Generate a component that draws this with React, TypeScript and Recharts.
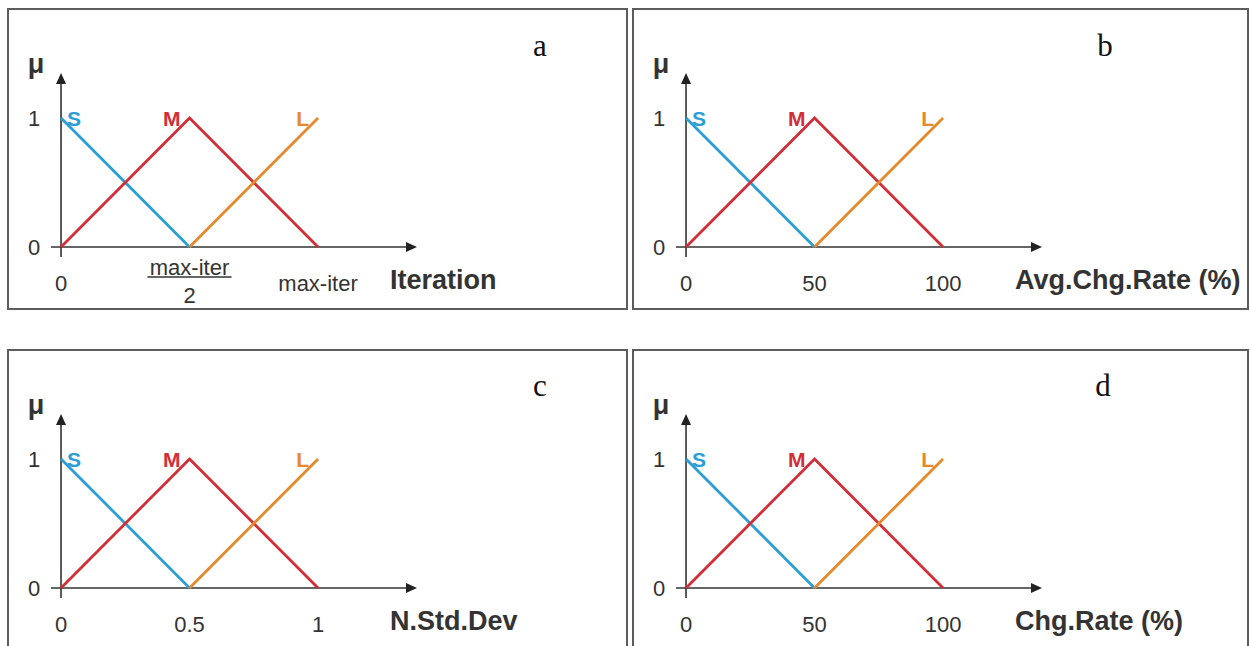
import React from "react";
import { LineChart, Line, XAxis, YAxis, ReferenceLine } from "recharts";

// panel captions and axis titles
const panelLetters = ["a", "b", "c", "d"];
const axisTitles = ["Iteration", "Avg.Chg.Rate (%)", "N.Std.Dev", "Chg.Rate (%)"];

// breakpoints of the membership functions on each x axis
const iterX = [0, 0.5, 1]; // in units of max-iter
const avgChgX = [0, 50, 100];
const stdDevX = [0, 0.5, 1];
const chgX = [0, 50, 100];
const breakpoints = [iterX, avgChgX, stdDevX, chgX];

const xTickLabels = [
  ["0", "max-iter/2", "max-iter"],
  ["0", "50", "100"],
  ["0", "0.5", "1"],
  ["0", "50", "100"],
];
const yTicks = [0, 1];

// membership degrees at the breakpoints
const muS = [1, 0]; // on breakpoints 0..1
const muM = [0, 1, 0]; // on breakpoints 0..2
const muL = [0, 1]; // on breakpoints 1..2

const setNames = ["S", "M", "L"];
const setColors = ["#2b9fd5", "#d22e38", "#e5892d"];

const FONT = "'Liberation Sans', Arial, Helvetica, sans-serif";
const AXIS = "#333";

const PANEL_H = 302;
const layout = [
  { left: 7, top: 8, width: 621, letterX: 533, letterY: 48 },
  { left: 632, top: 8, width: 617, letterX: 473, letterY: 48 },
  { left: 7, top: 349, width: 621, letterX: 533, letterY: 47 },
  { left: 632, top: 349, width: 617, letterX: 471, letterY: 47 },
];

function ArrowAxis(p: any) {
  const { x1, y1, x2, y2 } = p;
  const dx = x2 - x1;
  const dy = y2 - y1;
  const len = Math.hypot(dx, dy) || 1;
  const ux = dx / len;
  const uy = dy / len;
  const L = 11;
  const W = 5;
  const bx = x2 - ux * L;
  const by = y2 - uy * L;
  const pts = `${x2},${y2} ${bx - uy * W},${by + ux * W} ${bx + uy * W},${by - ux * W}`;
  return (
    <g>
      <line x1={x1} y1={y1} x2={bx + ux * 2} y2={by + uy * 2} stroke={AXIS} strokeWidth={1.6} />
      <polygon points={pts} fill="#222" />
    </g>
  );
}

// plot-area edges, relative to each panel
const PLOT_TOP = 65;
const PLOT_LEFT = 44;
const PLOT_BOTTOM = PANEL_H - 53;

function makeXTick(labels: string[], xs: number[]) {
  return function XTick(p: any) {
    const { x, payload } = p;
    const y = PLOT_BOTTOM;
    const label = labels[xs.indexOf(payload.value)] ?? String(payload.value);
    if (label.includes("/")) {
      const [num, den] = label.split("/");
      return (
        <g>
          <text x={x} y={y + 18} textAnchor="middle" fontFamily={FONT} fontSize={22} fill={AXIS}>
            {num}
          </text>
          <line x1={x - 42} x2={x + 42} y1={y + 20} y2={y + 20} stroke={AXIS} strokeWidth={1.4} />
          <text x={x} y={y + 46} textAnchor="middle" fontFamily={FONT} fontSize={22} fill={AXIS}>
            {den}
          </text>
        </g>
      );
    }
    return (
      <text x={x} y={y + 34} textAnchor="middle" fontFamily={FONT} fontSize={22} fill={AXIS}>
        {label}
      </text>
    );
  };
}

function YTick(p: any) {
  const { y, payload } = p;
  return (
    <text x={PLOT_LEFT - 17} y={y + 8} textAnchor="middle" fontFamily={FONT} fontSize={22} fill={AXIS}>
      {payload.value}
    </text>
  );
}

function makeSetLabel(name: string, color: string, side: "right" | "left") {
  return function SetLabel(p: any) {
    const { cx, cy, payload, index } = p;
    if (!payload || payload.mu !== 1) return <g key={`d${index}`} />;
    return (
      <text
        key={`d${index}`}
        x={side === "right" ? cx + 6 : cx - 9}
        y={cy + 8}
        textAnchor={side === "right" ? "start" : "end"}
        fontFamily={FONT}
        fontWeight="bold"
        fontSize={21}
        fill={color}
      >
        {name}
      </text>
    );
  };
}

function Panel({ idx }: { idx: number }) {
  const xs = breakpoints[idx];
  const xMax = xs[2];
  const box = layout[idx];
  const plotRight = 410;
  const xDomain = [-0.039 * xMax, 1.385 * xMax];
  const yDomain = [-0.078, 1.349];
  const sData = [
    { x: xs[0], mu: muS[0] },
    { x: xs[1], mu: muS[1] },
  ];
  const mData = xs.map((x, k) => ({ x, mu: muM[k] }));
  const lData = [
    { x: xs[1], mu: muL[0] },
    { x: xs[2], mu: muL[1] },
  ];
  const series = [sData, mData, lData];
  const sides: ("right" | "left")[] = ["right", "left", "left"];

  return (
    <div style={{ position: "absolute", left: box.left, top: box.top, width: box.width, height: PANEL_H }}>
      <LineChart
        width={box.width}
        height={PANEL_H}
        margin={{ top: PLOT_TOP, left: PLOT_LEFT - 1, right: box.width - plotRight, bottom: 52 }}
      >
        <XAxis
          type="number"
          dataKey="x"
          domain={xDomain}
          allowDataOverflow
          ticks={xs}
          interval={0}
          height={1}
          axisLine={false}
          tickLine={false}
          tickSize={0}
          tickMargin={0}
          tick={makeXTick(xTickLabels[idx], xs)}
        />
        <YAxis
          type="number"
          dataKey="mu"
          domain={yDomain}
          allowDataOverflow
          ticks={yTicks}
          interval={0}
          width={1}
          axisLine={false}
          tickLine={false}
          tickSize={0}
          tickMargin={0}
          tick={YTick}
        />
        <ReferenceLine
          segment={[
            { x: xDomain[0], y: 0 },
            { x: xDomain[1], y: 0 },
          ]}
          ifOverflow="visible"
          shape={ArrowAxis}
        />
        <ReferenceLine
          segment={[
            { x: 0, y: yDomain[0] },
            { x: 0, y: yDomain[1] },
          ]}
          ifOverflow="visible"
          shape={ArrowAxis}
          label={{
            content: () => (
              <g>
                <text
                  x={PLOT_LEFT - 15}
                  y={PLOT_TOP}
                  textAnchor="middle"
                  fontFamily={FONT}
                  fontWeight="bold"
                  fontSize={27}
                  fill={AXIS}
                >
                  μ
                </text>
                <text
                  x={plotRight - 27}
                  y={PLOT_BOTTOM + 32}
                  fontFamily={FONT}
                  fontWeight="bold"
                  fontSize={27}
                  fill={AXIS}
                >
                  {axisTitles[idx]}
                </text>
              </g>
            ),
          }}
        />
        {series.map((d, k) => (
          <Line
            key={setNames[k]}
            data={d}
            dataKey="mu"
            type="linear"
            stroke={setColors[k]}
            strokeWidth={2.8}
            dot={makeSetLabel(setNames[k], setColors[k], sides[k])}
            activeDot={false}
            isAnimationActive={false}
          />
        ))}
      </LineChart>
      <div
        style={{
          position: "absolute",
          left: box.letterX - 20,
          top: box.letterY - 26,
          width: 40,
          textAlign: "center",
          fontFamily: "'Liberation Serif', 'Times New Roman', serif",
          fontSize: 31,
          lineHeight: "31px",
          color: "#111",
        }}
      >
        {panelLetters[idx]}
      </div>
      <div
        style={{
          position: "absolute",
          inset: 0,
          border: "2px solid #5c5c5c",
          boxSizing: "border-box",
          pointerEvents: "none",
        }}
      />
    </div>
  );
}

export default function App() {
  return (
    <div
      style={{
        position: "fixed",
        left: 0,
        top: 0,
        width: 1250,
        height: 646,
        overflow: "hidden",
        background: "#fff",
      }}
    >
      {[0, 1, 2, 3].map((i) => (
        <Panel key={i} idx={i} />
      ))}
    </div>
  );
}
